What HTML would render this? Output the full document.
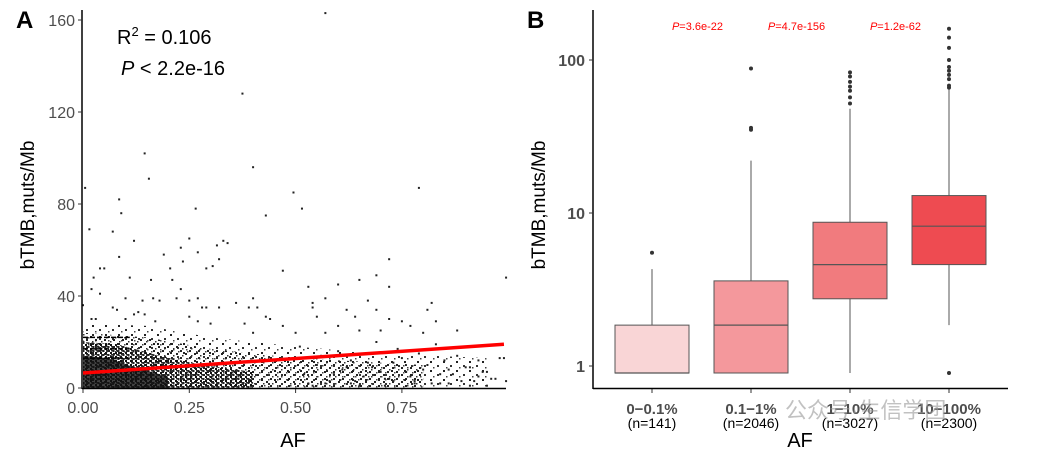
<!DOCTYPE html>
<html><head><meta charset="utf-8">
<style>
body{margin:0;background:#fff;}
svg{display:block;font-family:"Liberation Sans",Arial,sans-serif;}
</style></head>
<body>
<svg id="c" width="1050" height="455" viewBox="0 0 1050 455">
<defs>
<pattern id="pDense" width="5" height="4" patternUnits="userSpaceOnUse">
<rect x="0" y="0" width="2" height="2" fill="#111"/><rect x="2.5" y="2" width="2" height="2" fill="#222"/><rect x="1" y="2" width="1.5" height="1.5" fill="#333"/>
</pattern>
<pattern id="pMid" width="9" height="7" patternUnits="userSpaceOnUse">
<rect x="0" y="0" width="2" height="2" fill="#222"/><rect x="5" y="3" width="2" height="2" fill="#222"/><rect x="2" y="5" width="1.5" height="1.5" fill="#333"/><rect x="7" y="1" width="1.5" height="1.5" fill="#444"/>
</pattern>
<pattern id="pSparse" width="13" height="9" patternUnits="userSpaceOnUse">
<rect x="1" y="1" width="2" height="2" fill="#222"/><rect x="8" y="5" width="2" height="2" fill="#333"/><rect x="4" y="7" width="1.5" height="1.5" fill="#444"/>
</pattern>
</defs>
<g id="A"></g>
<g id="B"></g>
</svg>
<script>
// ---- Panel A data ----
const scatterX = [0.57,0.375,0.145,0.4,0.155,0.005,0.79,0.085,0.495,0.09,0.265,0.515,0.43,0.015,0.07,0.12,0.25,0.33,0.34,0.315,0.23,0.27,0.085,0.32,0.19,0.235,0.72,0.04,0.05,0.29,0.305,0.205,0.47,0.025,0.11,0.16,0.21,0.65,0.69,0.995,0.6,0.72,0.53,0.02,0.23,0.04,0.1,0.14,0.165,0.18,0.22,0.25,0.27,0.4,0.57,0.67,0.54,0.82,0.36,0.07,0.0,0.08,0.28,0.29,0.32,0.39,0.41,0.54,0.81,0.62,0.69,0.13,0.145,0.12,0.25,0.43,0.44,0.55,0.64,0.72,0.02,0.03,0.1,0.17,0.27,0.75,0.83,0.3,0.38,0.47,0.6,0.77,0.65,0.7,0.88,0.5,0.57,0.8,0.4,
0.52,0.55,0.58,0.61,0.63,0.66,0.68,0.71,0.73,0.76,0.78,0.81,0.84,0.86,0.89,0.91,0.93,0.95,0.97,0.99,0.53,0.56,0.59,0.62,0.64,0.67,0.7,0.72,0.75,0.77,0.8,0.82,0.85,0.87,0.9,0.92,0.94,0.96,0.51,0.6,0.69,0.74,0.79,0.83,0.88,0.93,0.54,0.63,0.71,0.78,0.86,0.91,0.57,0.65,0.73,0.84,0.95,0.98,0.995];
const scatterY = [163,128,102,96,91,87,87,82,85,76,78,78,75,69,68,64,65,64,63,62,61,59,57,56,58,55,56,52,52,52,53,52,51,48,48,47,47,47,49,48,45,44,44,43,43,41,39,38,39,38,39,38,39,39,39,38,37,37,37,35,36,34,35,35,35,35,35,35,34,34,34,33,32,32,31,31,30,31,31,30,30,30,30,29,29,29,29,28,28,27,27,27,25,25,25,24,24,24,24,
6,10,3,8,12,5,9,4,11,7,2,10,6,8,3,9,5,7,4,13,2,14,6,9,3,11,7,4,13,5,8,2,12,6,9,3,7,4,18,16,20,17,15,19,14,12,1,2,1,3,2,1,2,1,3,2,1,13,3];
const fitX = [0, 0.99];
const fitY = [6.5, 19];
const xTicksA = [0, 0.25, 0.5, 0.75];
const xTickLabelsA = ["0.00","0.25","0.50","0.75"];
const yTicksA = [0, 40, 80, 120, 160];

// ---- Panel B data ----
const groups = ["0\u22120.1%","0.1\u22121%","1\u221210%","10\u2212100%"];
const groupN = ["(n=141)","(n=2046)","(n=3027)","(n=2300)"];
const boxQ1 = [0.9, 0.9, 2.75, 4.6];
const boxMed = [0.9, 1.85, 4.6, 8.2];
const boxQ3 = [1.85, 3.6, 8.7, 13];
const whiskLo = [0.9, 0.9, 0.9, 1.85];
const whiskHi = [4.3, 22, 48, 65];
const outliers = [[5.5],[35,36,88],[52,57,63,67,72,78,83],[0.9,66,68,75,80,85,90,100,120,140,160]];
const boxFill = ["#f9d5d6","#f4989c","#f17b7e","#ee4b51"];
const pLabels = ["3.6e-22","4.7e-156","1.2e-62"];
const yTicksB = [1, 10, 100];

const NS="http://www.w3.org/2000/svg";
function mk(parent, tag, attrs, text){const e=document.createElementNS(NS,tag);for(const k in attrs)e.setAttribute(k,attrs[k]);if(text!==undefined)e.textContent=text;parent.appendChild(e);return e;}

// Panel A
const A=document.getElementById('A');
const xA=v=>83+v*425.2, yA=v=>388-v*2.3;
const poly=pts=>'M'+pts.map(p=>xA(p[0])+','+yA(p[1])).join(' L')+' Z';
let d3=mk(A,'path',{d:poly([[0,0],[0,28],[0.15,27],[0.3,22],[0.5,18],[0.7,15],[0.95,13],[0.95,0]]),fill:'url(#pSparse)'});


let d2=mk(A,'path',{d:poly([[0,0],[0,24],[0.15,22],[0.3,17],[0.45,14],[0.6,12],[0.8,10],[0.8,0]]),fill:'url(#pMid)'});


let d1=mk(A,'path',{d:poly([[0,0],[0,20],[0.08,19],[0.18,14],[0.28,10],[0.4,7],[0.4,0]]),fill:'url(#pDense)'});


let d0=mk(A,'path',{d:poly([[0,0],[0,14],[0.06,13],[0.12,9],[0.2,5],[0.2,0]]),fill:'#111',opacity:0.8});


[13,17,22].forEach(v=>{let l=mk(A,'line',{x1:xA(0),x2:xA(0.11),y1:yA(v),y2:yA(v),stroke:'#000','stroke-width':1.5,'stroke-dasharray':'5 2'});

});
scatterX.forEach((x,i)=>{let r=mk(A,'rect',{x:xA(x)-1,y:yA(scatterY[i])-1,width:2,height:2,fill:'#222'});

});
let fit=mk(A,'line',{x1:xA(fitX[0]),y1:yA(fitY[0]),x2:xA(fitX[1]),y2:yA(fitY[1]),stroke:'#ff0000','stroke-width':3.5});


mk(A,'line',{x1:82,y1:10,x2:82,y2:389,stroke:'#000','stroke-width':1.5,});
mk(A,'line',{x1:82,y1:388.5,x2:506,y2:388.5,stroke:'#000','stroke-width':1.5,});
yTicksA.forEach(v=>{mk(A,'line',{x1:78,x2:82,y1:yA(v),y2:yA(v),stroke:'#333'});
let t=mk(A,'text',{x:75,y:yA(v)+6,'text-anchor':'end','font-size':16,fill:'#4d4d4d'},String(v));

});
xTicksA.forEach((v,i)=>{mk(A,'line',{x1:xA(v),x2:xA(v),y1:389,y2:393,stroke:'#333'});
let t=mk(A,'text',{x:xA(v),y:413,'text-anchor':'middle','font-size':16,fill:'#4d4d4d'},xTickLabelsA[i]);

});
mk(A,'text',{x:293,y:447,'text-anchor':'middle','font-size':20,fill:'#000',},'AF');
mk(A,'text',{x:0,y:0,transform:'translate(34,205) rotate(-90)','text-anchor':'middle','font-size':19,fill:'#000',},'bTMB,muts/Mb');
mk(A,'text',{x:16,y:28,'font-size':24,'font-weight':'bold',fill:'#000',},'A');
let r2=mk(A,'text',{x:117,y:44,'font-size':20,fill:'#000',});
r2.innerHTML='R<tspan dy="-8" font-size="13">2</tspan><tspan dy="8"> = 0.106</tspan>';
let pl=mk(A,'text',{x:121,y:75,'font-size':20,fill:'#000',});
pl.innerHTML='<tspan font-style="italic">P</tspan> &lt; 2.2e-16';

// Panel B
const B=document.getElementById('B');
const xB=i=>652+i*99, yB=v=>366-Math.log10(v)*153;
const hw=37;
groups.forEach((g,i)=>{
  const cx=xB(i);
  let w=mk(B,'line',{x1:cx,x2:cx,y1:yB(whiskHi[i]),y2:yB(boxQ3[i]),stroke:'#555','stroke-width':1});
  
  
  let w2=mk(B,'line',{x1:cx,x2:cx,y1:yB(boxQ1[i]),y2:yB(whiskLo[i]),stroke:'#555','stroke-width':1});
  
  
  let b=mk(B,'rect',{x:cx-hw,y:yB(boxQ3[i]),width:hw*2,height:yB(boxQ1[i])-yB(boxQ3[i]),fill:boxFill[i],stroke:'#555','stroke-width':1});
  
  
  let m=mk(B,'line',{x1:cx-hw,x2:cx+hw,y1:yB(boxMed[i]),y2:yB(boxMed[i]),stroke:'#555','stroke-width':1.2});
  
  
  outliers[i].forEach(o=>{let c=mk(B,'circle',{cx:cx,cy:yB(o),r:2,fill:'#333'});
  
  });
  mk(B,'line',{x1:cx,x2:cx,y1:389,y2:393,stroke:'#333'});
  let t=mk(B,'text',{x:cx,y:414,'text-anchor':'middle','font-size':15,'font-weight':'bold',fill:'#4d4d4d'},g);
  
  
  let n=mk(B,'text',{x:cx,y:428,'text-anchor':'middle','font-size':14,fill:'#000'},groupN[i]);
  
  
});
pLabels.forEach((p,i)=>{let t=mk(B,'text',{x:(xB(i)+xB(i+1))/2-4,y:30,'text-anchor':'middle','font-size':11,fill:'#ff0000'});
t.innerHTML='<tspan font-style="italic">P</tspan>='+p;

});
mk(B,'line',{x1:593,y1:10,x2:593,y2:389,stroke:'#000','stroke-width':1.5,});
mk(B,'line',{x1:593,y1:388.5,x2:1008,y2:388.5,stroke:'#000','stroke-width':1.5,});
yTicksB.forEach(v=>{mk(B,'line',{x1:589,x2:593,y1:yB(v),y2:yB(v),stroke:'#333'});
let t=mk(B,'text',{x:585,y:yB(v)+6,'text-anchor':'end','font-size':16,'font-weight':'bold',fill:'#4d4d4d'},String(v));

});
mk(B,'text',{x:800,y:447,'text-anchor':'middle','font-size':20,fill:'#000',},'AF');
mk(B,'text',{x:0,y:0,transform:'translate(545,205) rotate(-90)','text-anchor':'middle','font-size':19,fill:'#000',},'bTMB,muts/Mb');
mk(B,'text',{x:527,y:28,'font-size':24,'font-weight':'bold',fill:'#000',},'B');
let wm=mk(B,'text',{x:785,y:418,'font-size':22,fill:'#999',opacity:0.6,'font-family':'"Liberation Sans","Noto Sans CJK SC",sans-serif'},'公众号·生信学团');


</script>
</body></html>
